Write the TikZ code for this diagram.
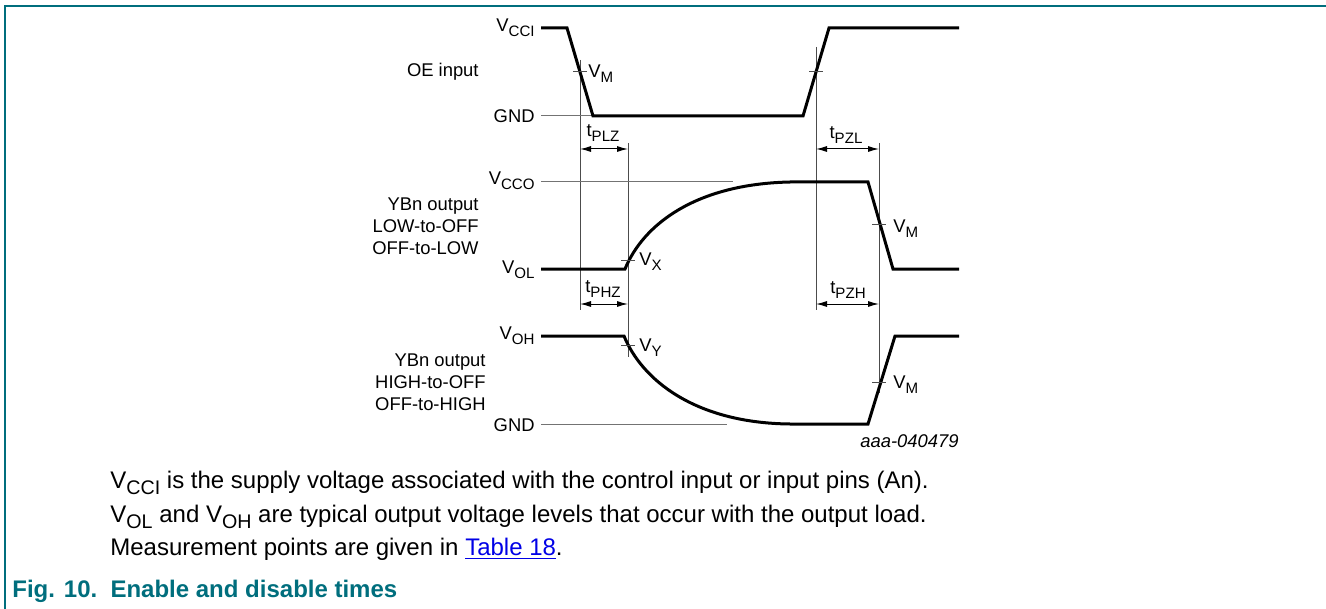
\documentclass[tikz,border=0pt]{standalone}
\usepackage{fontspec}
\setmainfont{Liberation Sans}
\usepackage{xcolor}
\usepackage{graphicx}
\usepackage{tikz}
\usetikzlibrary{arrows.meta,positioning,calc}
\definecolor{nxpteal}{RGB}{0,110,125}
\definecolor{linkblue}{RGB}{0,0,230}
\newcommand{\sbs}[1]{\raisebox{-0.5ex}{\scalebox{0.82}{#1}}}

\begin{document}
\begin{tikzpicture}[x=0.5pt,y=-0.5pt,
  signal/.style={line width=1.5pt,line join=miter},
  level/.style={black!55,line width=0.5pt},
  guide/.style={black!70,line width=0.5pt},
  dimline/.style={line width=0.5pt,{Latex[length=5.5pt,width=3pt]}-{Latex[length=5.5pt,width=3pt]}},
  lbl/.style={font=\fontsize{9.2}{11}\selectfont,inner sep=0pt},
  note/.style={font=\fontsize{12}{14}\selectfont,inner sep=0pt,anchor=base west}]
  \useasboundingbox (0,0) rectangle (1326,609);
  % frame
  \draw[nxpteal,line width=0.8pt] (5,609) -- (5,6) -- (1326,6);

  % rows of the dimension arrows and guide lines
  \coordinate (rowT) at (0,149);
  \coordinate (rowB) at (0,304);
  \coordinate (gA) at (580,60);
  \coordinate (gB) at (628,143);
  \coordinate (gC) at (816,47);
  \coordinate (gD) at (879,143);
  \draw[guide] (gA) -- ++(0,250);
  \draw[guide] (gB) -- ++(0,214);
  \draw[guide] (gC) -- ++(0,263);
  \draw[guide] (gD) -- ++(0,250);

  % reference levels
  \draw[level] (541,116) -- (593,116);
  \draw[level] (541,182) -- (733,182);
  \draw[level] (541,424) -- (727,424);

  % waveforms
  \draw[signal] (541,28) -- (567,28) -- (593,116) -- (803,116) -- (829,28) -- (959,28);
  \draw[signal] (541,269) -- (625,269) .. controls (643,225) and (695,184) .. (790,182)
    -- (868,182) -- (893,269) -- (959,269);
  \draw[signal] (541,336) -- (624,336) .. controls (642,380) and (695,423) .. (790,424)
    -- (868,424) -- (895,336) -- (959,336);

  % crossing marks
  \foreach \gx/\gy in {gA/72,gC/72,gB/260,gD/225,gB/345,gD/382}
    \draw[guide] ($(\gx |- 0,\gy)+(-7,0)$) -- ++(14,0);

  % time intervals
  \draw[dimline] (gA |- rowT) -- (gB |- rowT);
  \draw[dimline] (gC |- rowT) -- (gD |- rowT);
  \draw[dimline] (gA |- rowB) -- (gB |- rowB);
  \draw[dimline] (gC |- rowB) -- (gD |- rowB);

  % level labels
  \node[lbl,anchor=east] (vcci) at (535,28) {V\sbs{CCI}};
  \node[lbl,anchor=east] (gnd1) at (535,116) {GND};
  \node[lbl,anchor=east] (vcco) at (535,181) {V\sbs{CCO}};
  \node[lbl,anchor=east] (vol) at (535,270) {V\sbs{OL}};
  \node[lbl,anchor=east] (voh) at (535,336) {V\sbs{OH}};
  \node[lbl,anchor=east] (gnd2) at (535,425) {GND};

  % signal names
  \node[lbl,anchor=east] (oe) at (479,72) {OE input};
  \node[lbl,anchor=east,align=right] (ylow) at (479,226) {YBn output\\LOW-to-OFF\\OFF-to-LOW};
  \node[lbl,anchor=east,align=right] (yhigh) at (486,382) {YBn output\\HIGH-to-OFF\\OFF-to-HIGH};

  % measurement labels
  \node[lbl,anchor=west] (vm1) at (588,74) {V\sbs{M}};
  \node[lbl,anchor=west] (vx) at (639,262) {V\sbs{X}};
  \node[lbl,anchor=west] (vy) at (639,348) {V\sbs{Y}};
  \node[lbl,anchor=west] (vm2) at (893,229) {V\sbs{M}};
  \node[lbl,anchor=west] (vm3) at (893,385) {V\sbs{M}};
  \node[lbl] (tplz) at (603,133) {t\sbs{PLZ}};
  \node[lbl] (tphz) at (603,289) {t\sbs{PHZ}};
  \node[lbl] (tpzl) at (846,135) {t\sbs{PZL}};
  \node[lbl] (tpzh) at (848,290) {t\sbs{PZH}};
  \node[lbl,anchor=east,font=\fontsize{9.2}{11}\selectfont\itshape] (code) at (959,441) {aaa-040479};

  % notes and caption
  \node[note] (note1) at (110,488) {V\sbs{CCI} is the supply voltage associated with the control input or input pins (An).};
  \node[note] (note2) at (110,522) {V\sbs{OL} and V\sbs{OH} are typical output voltage levels that occur with the output load.};
  \node[note] (note3) at (110,555) {Measurement points are given in \textcolor{linkblue}{\underline{Table 18}}.};
  \node[anchor=base west,inner sep=0pt,text=nxpteal,font=\bfseries\fontsize{12}{14}\selectfont] (fig) at (12,597) {Fig. 10.\hspace{0.55em}Enable and disable times};
\end{tikzpicture}
\end{document}
